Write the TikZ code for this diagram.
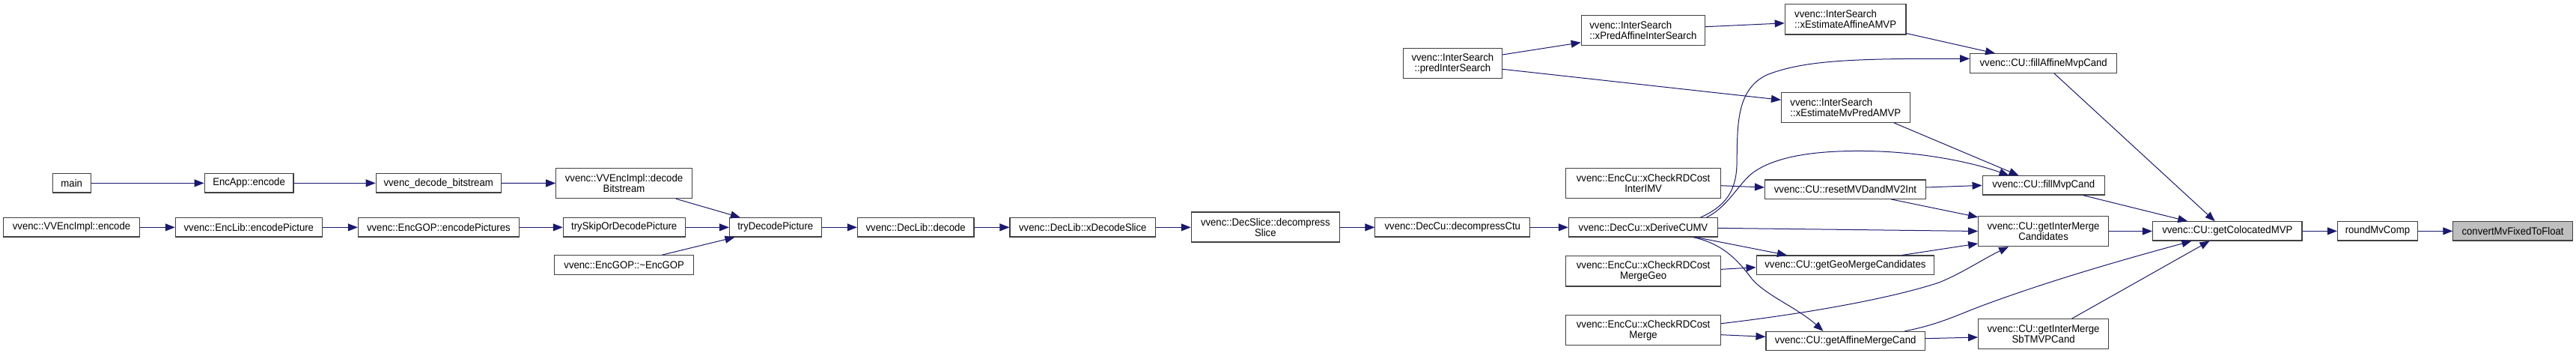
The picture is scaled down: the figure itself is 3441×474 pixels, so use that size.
\documentclass[tikz,border=0pt]{standalone}
\usepackage{fontspec}
\usetikzlibrary{arrows.meta}
\newfontfamily\lsans[FakeStretch=0.94]{Liberation Sans}
\newcommand\dgfont{\lsans\fontsize{14}{14}\selectfont}
\definecolor{mb}{HTML}{191970}
\definecolor{nborder}{HTML}{404040}
\definecolor{hilite}{HTML}{BFBFBF}
\tikzset{
  box/.style={draw=nborder, line width=1.1pt, fill=white, inner sep=0pt, font=\dgfont, align=center},
  lbox/.style={box, align=left},
  edge/.style={draw=mb, line width=1pt, -{Triangle[length=13pt,width=10pt]}}
}
\begin{document}
\begin{tikzpicture}[x=1pt,y=-1pt]
\useasboundingbox (0,0) rectangle (3441,474);
\fill[white] (0,0) rectangle (3441,474);
% nodes
\node[box, minimum width=50.9pt, minimum height=25.3pt] (main) at (95.75,244.35) {main};
\node[box, minimum width=118.9pt, minimum height=25.3pt] (encapp) at (332.55,244.35) {EncApp::encode};
\node[box, minimum width=167pt, minimum height=25.3pt] (vdb) at (585.7,244.35) {vvenc\_decode\_bitstream};
\node[box, minimum width=181.6pt, minimum height=40.4pt] (decbs) at (833.5,244.5) {vvenc::VVEncImpl::decode\\Bitstream};
\node[box, minimum width=182.3pt, minimum height=25.3pt] (vencode) at (95.55,303.35) {vvenc::VVEncImpl::encode};
\node[box, minimum width=196.1pt, minimum height=25.3pt] (enclib) at (332.35,303.35) {vvenc::EncLib::encodePicture};
\node[box, minimum width=214.9pt, minimum height=25.3pt] (encpics) at (585.85,303.35) {vvenc::EncGOP::encodePictures};
\node[box, minimum width=162.8pt, minimum height=25.3pt] (tryskip) at (833.7,303.35) {trySkipOrDecodePicture};
\node[box, minimum width=185.6pt, minimum height=26pt] (dtor) at (833.7,353.7) {vvenc::EncGOP::\textasciitilde EncGOP};
\node[box, minimum width=122.7pt, minimum height=25.3pt] (trydec) at (1035.75,303.35) {tryDecodePicture};
\node[box, minimum width=155.6pt, minimum height=25.3pt] (declib) at (1223.2,303.35) {vvenc::DecLib::decode};
\node[box, minimum width=194.7pt, minimum height=25.3pt] (xdecslice) at (1446.35,303.35) {vvenc::DecLib::xDecodeSlice};
\node[box, minimum width=198pt, minimum height=40pt] (decslice) at (1690.3,303) {vvenc::DecSlice::decompress\\Slice};
\node[box, minimum width=206.8pt, minimum height=25.3pt] (decctu) at (1940.3,303.35) {vvenc::DecCu::decompressCtu};
\node[box, minimum width=199.1pt, minimum height=25.3pt] (cumv) at (2194.95,303.35) {vvenc::DecCu::xDeriveCUMV};
\node[box, minimum width=132.1pt, minimum height=40.4pt] (pis) at (1940.35,84.5) {vvenc::InterSearch\\::predInterSearch};
\node[lbox, minimum width=165.4pt, minimum height=40pt] (xpais) at (2194.9,40.7) {vvenc::InterSearch\\::xPredAffineInterSearch};
\node[lbox, minimum width=161.8pt, minimum height=40.3pt] (xeaamvp) at (2465.1,25.85) {vvenc::InterSearch\\::xEstimateAffineAMVP};
\node[lbox, minimum width=171.6pt, minimum height=40pt] (xemvp) at (2465.3,143.3) {vvenc::InterSearch\\::xEstimateMvPredAMVP};
\node[box, minimum width=206.8pt, minimum height=40.4pt] (imv) at (2195.1,244.5) {vvenc::EncCu::xCheckRDCost\\InterIMV};
\node[box, minimum width=206.8pt, minimum height=40.3pt] (mgeo) at (2195.1,361.85) {vvenc::EncCu::xCheckRDCost\\MergeGeo};
\node[box, minimum width=206.8pt, minimum height=40pt] (mrg) at (2195.1,440.7) {vvenc::EncCu::xCheckRDCost\\Merge};
\node[box, minimum width=196.2pt, minimum height=25.6pt] (fampc) at (2729.7,84.5) {vvenc::CU::fillAffineMvpCand};
\node[box, minimum width=163.3pt, minimum height=25.3pt] (fmpc) at (2729.75,247.35) {vvenc::CU::fillMvpCand};
\node[box, minimum width=214.9pt, minimum height=25.3pt] (reset) at (2464.95,252.65) {vvenc::CU::resetMVDandMV2Int};
\node[box, minimum width=173.9pt, minimum height=40.4pt] (gimc) at (2729.55,308.5) {vvenc::CU::getInterMerge\\Candidates};
\node[box, minimum width=237.6pt, minimum height=25.7pt] (geo) at (2464.9,353.85) {vvenc::CU::getGeoMergeCandidates};
\node[box, minimum width=212.3pt, minimum height=25.4pt] (amc) at (2465.15,455) {vvenc::CU::getAffineMergeCand};
\node[box, minimum width=173.9pt, minimum height=40pt] (sbt) at (2729.55,445.7) {vvenc::CU::getInterMerge\\SbTMVPCand};
\node[box, minimum width=199.5pt, minimum height=25.3pt] (colmvp) at (2975.25,308.35) {vvenc::CU::getColocatedMVP};
\node[box, minimum width=107pt, minimum height=25.3pt] (rmv) at (3175.9,308.35) {roundMvComp};
\node[box, fill=hilite, minimum width=159.5pt, minimum height=25.3pt] (conv) at (3356.55,308.35) {convertMvFixedToFloat};
% straight edges
\draw[edge] (main) -- (encapp);
\draw[edge] (encapp) -- (vdb);
\draw[edge] (vdb) -- (decbs);
\draw[edge] (vencode) -- (enclib);
\draw[edge] (enclib) -- (encpics);
\draw[edge] (encpics) -- (tryskip);
\draw[edge] (tryskip) -- (trydec);
\draw[edge] (trydec) -- (declib);
\draw[edge] (declib) -- (xdecslice);
\draw[edge] (xdecslice.east) -- (xdecslice.east -| decslice.west);
\draw[edge] (decctu.west -| decslice.east) -- (decctu.west);
\draw[edge] (decctu) -- (cumv);
\draw[edge] (gimc.east) -- (gimc.east -| colmvp.west);
\draw[edge] (colmvp) -- (rmv);
\draw[edge] (rmv) -- (conv);
% diagonal edges
\draw[edge] ([xshift=160.7pt]decbs.south west) -- ([xshift=15pt]trydec.north west);
\draw[edge] ([xshift=144pt]dtor.north west) -- ([xshift=7.6pt]trydec.south west);
\draw[edge] ([yshift=11.5pt]pis.east) -- ([yshift=-16pt]xpais.west);
\draw[edge] ([yshift=-7.8pt]pis.east) -- ([yshift=10pt]xemvp.west);
\draw[edge] ([yshift=5pt]xpais.east) -- ([yshift=-5pt]xeaamvp.west);
\draw[edge] ([yshift=2pt]xeaamvp.south east) -- ([xshift=34pt]fampc.north west);
\draw[edge] ([xshift=176.6pt]cumv.north west) .. controls (2305,275) and (2319,255) .. (2320,220)
  .. controls (2321,170) and (2318,120) .. (2360,100)
  .. controls (2410,80) and (2480,78) .. ([yshift=6.2pt]fampc.west);
\draw[edge] ([xshift=150.8pt]xemvp.south west) -- ([xshift=49pt]fmpc.north west);
\draw[edge] ([xshift=184.6pt]cumv.north west) .. controls (2310,275) and (2325,240) .. (2345,228)
  .. controls (2380,205) and (2440,201) .. (2490,201.5)
  .. controls (2560,202) and (2630,215) .. ([xshift=36pt]fmpc.north west);
\draw[edge] ([yshift=-3.2pt]imv.east) -- ([yshift=2.65pt]reset.west);
\draw[edge] ([yshift=2.65pt]reset.east) -- (fmpc.west);
\draw[edge] ([xshift=169pt]reset.south west) -- ([yshift=-2pt]gimc.north west);
\draw[edge] ([yshift=-1pt]cumv.east) -- (gimc.west);
\draw[edge] ([xshift=170.4pt]cumv.south west) -- ([xshift=41.4pt]geo.north west);
\draw[edge] ([yshift=2.5pt]mgeo.east) -- ([yshift=-2.85pt]geo.west);
\draw[edge] ([xshift=195.1pt]geo.north west) -- ([yshift=-16.5pt]gimc.west);
\draw[edge] ([xshift=166.6pt]cumv.south west) .. controls (2300,325) and (2320,345) .. (2340,372)
  .. controls (2360,395) and (2400,410) .. ([xshift=77pt]amc.north west);
\draw[edge] ([yshift=9pt]mrg.east) .. controls (2400,420) and (2520,400) .. (2590,377)
  .. controls (2620,365) and (2650,345) .. ([xshift=41pt]gimc.south west);
\draw[edge] ([yshift=-6pt]mrg.east) -- ([yshift=5.7pt]amc.west);
\draw[edge] ([xshift=186pt]amc.north west) .. controls (2590,433) and (2615,420) .. (2650,407)
  .. controls (2750,370) and (2860,340) .. ([xshift=52.5pt]colmvp.south west);
\draw[edge] ([yshift=3.3pt]amc.east) -- ([yshift=-4.3pt]sbt.west);
\draw[edge] ([xshift=125.4pt]sbt.north west) -- ([xshift=76.5pt]colmvp.south west);
\draw[edge] ([xshift=112.8pt]fampc.south west) -- ([xshift=83.7pt]colmvp.north west);
\draw[edge] ([xshift=134.7pt]fmpc.south west) -- ([xshift=47.3pt]colmvp.north west);
\end{tikzpicture}
\end{document}
